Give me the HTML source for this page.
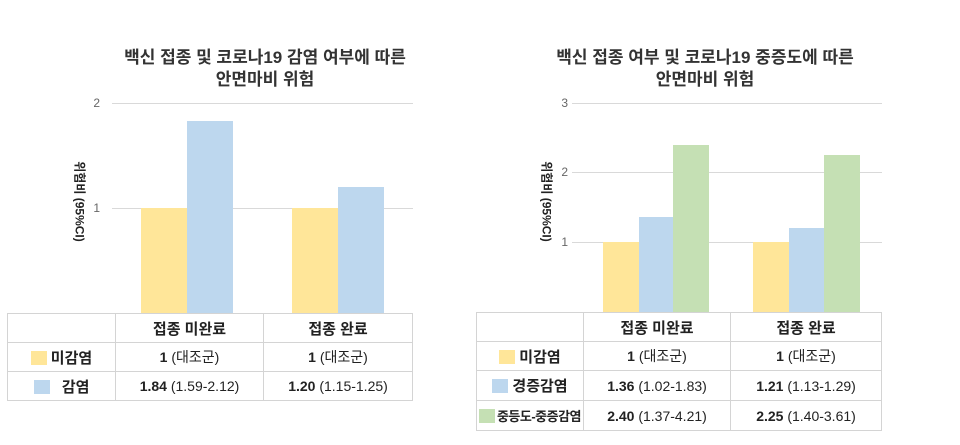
<!DOCTYPE html>
<html><head><meta charset="utf-8"><style>
body{margin:0;width:960px;height:445px;background:#fff;position:relative;overflow:hidden;font-family:"Liberation Sans","Noto Sans CJK KR",sans-serif;color:#222}
.a{position:absolute}
.t{font-weight:bold;font-size:17px;text-align:center;line-height:22px;color:#333}
.g{position:absolute;height:1px;background:#d9d9d9}
.yl{position:absolute;font-size:12px;color:#666;width:20px;text-align:right}
.b{position:absolute}
.Y{background:#FFE699}.B{background:#BDD7EE}.G{background:#C5E0B4}
.yt{position:absolute;font-size:12px;font-weight:bold;transform:rotate(90deg);white-space:nowrap;width:120px;text-align:center}
table{position:absolute;border-collapse:collapse;font-size:14px;table-layout:fixed}
td{border:1px solid #d4d4d4;text-align:center;padding:0;overflow:hidden}
td.h{font-weight:bold;font-size:15px}
.sw{display:inline-block;width:16px;height:14px;vertical-align:-2px;margin-right:4px}
</style></head><body>
<div class="a t" style="left:90px;top:47px;width:350px">백신 접종 및 코로나19 감염 여부에 따른<br>안면마비 위험</div>
<div class="g" style="left:112px;width:301px;top:103px"></div>
<div class="g" style="left:112px;width:301px;top:208px"></div>
<div class="yl" style="left:80px;top:96px">2</div>
<div class="yl" style="left:80px;top:201px">1</div>
<div class="yt" style="left:20px;top:193px">위험비 (95%CI)</div>
<div class="b Y" style="left:141px;width:46px;top:208px;height:105px"></div>
<div class="b B" style="left:187px;width:46px;top:121px;height:192px"></div>
<div class="b Y" style="left:292px;width:46px;top:208px;height:105px"></div>
<div class="b B" style="left:338px;width:46px;top:187px;height:126px"></div>
<table style="left:7px;top:313px;width:406px">
<colgroup><col style="width:108px"><col style="width:148px"><col></colgroup>
<tr style="height:29px"><td></td><td class="h">접종 미완료</td><td class="h">접종 완료</td></tr>
<tr style="height:29px"><td class="h"><span class="sw Y"></span>미감염</td><td><b>1</b> (대조군)</td><td><b>1</b> (대조군)</td></tr>
<tr style="height:29px"><td class="h"><span class="sw B"></span>&nbsp;&nbsp;감염</td><td><b>1.84</b> (1.59-2.12)</td><td><b>1.20</b> (1.15-1.25)</td></tr>
</table>

<div class="a t" style="left:530px;top:47px;width:350px">백신 접종 여부 및 코로나19 중증도에 따른<br>안면마비 위험</div>
<div class="g" style="left:572px;width:310px;top:103px"></div>
<div class="g" style="left:572px;width:310px;top:172px"></div>
<div class="g" style="left:572px;width:310px;top:242px"></div>
<div class="yl" style="left:548px;top:96px">3</div>
<div class="yl" style="left:548px;top:165px">2</div>
<div class="yl" style="left:548px;top:235px">1</div>
<div class="yt" style="left:487px;top:193px">위험비 (95%CI)</div>
<div class="b Y" style="left:603px;width:36px;top:242px;height:70px"></div>
<div class="b B" style="left:639px;width:34px;top:217px;height:95px"></div>
<div class="b G" style="left:673px;width:36px;top:145px;height:167px"></div>
<div class="b Y" style="left:753px;width:36px;top:242px;height:70px"></div>
<div class="b B" style="left:789px;width:35px;top:228px;height:84px"></div>
<div class="b G" style="left:824px;width:36px;top:155px;height:157px"></div>
<table style="left:476px;top:312px;width:406px">
<colgroup><col style="width:107px"><col style="width:147px"><col></colgroup>
<tr style="height:29px"><td></td><td class="h">접종 미완료</td><td class="h">접종 완료</td></tr>
<tr style="height:29px"><td class="h"><span class="sw Y"></span>미감염</td><td><b>1</b> (대조군)</td><td><b>1</b> (대조군)</td></tr>
<tr style="height:30px"><td class="h"><span class="sw B"></span>경증감염</td><td><b>1.36</b> (1.02-1.83)</td><td><b>1.21</b> (1.13-1.29)</td></tr>
<tr style="height:30px"><td class="h" style="font-size:13px;white-space:nowrap;letter-spacing:-0.5px"><span class="sw G" style="margin-right:2px"></span>중등도-중증감염</td><td><b>2.40</b> (1.37-4.21)</td><td><b>2.25</b> (1.40-3.61)</td></tr>
</table>
</body></html>
